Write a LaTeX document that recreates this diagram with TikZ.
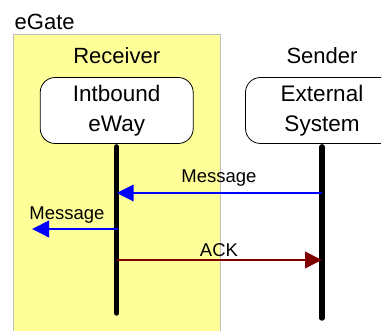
\documentclass[tikz,border=0pt]{standalone}
\usepackage{fontspec}
\setmainfont{Liberation Sans}
\usetikzlibrary{arrows.meta}
\definecolor{zonefill}{HTML}{FFFF99}
\definecolor{zoneline}{HTML}{BFBFBF}
\definecolor{ackred}{HTML}{800000}
\tikzset{
  title/.style={font=\fontsize{22}{26}\selectfont, anchor=base, inner sep=0pt},
  msglabel/.style={font=\fontsize{18.5}{22}\selectfont, anchor=base, inner sep=0pt},
  participant/.style={draw=black, line width=0.8pt, fill=white, rounded corners=15pt,
    minimum width=153pt, minimum height=66pt, inner sep=0pt, align=center,
    font=\fontsize{22.5}{30}\selectfont},
  lifeline/.style={line width=5.5pt, line cap=round},
  msg/.style={line width=2pt, -{Triangle[length=17pt,width=16.5pt]}},
}
\begin{document}
\begin{tikzpicture}[x=1pt, y=-1pt]
  \useasboundingbox (0,0) rectangle (381,331);
  \clip (0,0) rectangle (381,331);

  % eGate zone
  \draw[zoneline, fill=zonefill, line width=0.8pt] (13,34) rectangle (220,340);
  \node[title, anchor=base west] (egate) at (14.5,30) {eGate};

  % participant headings
  \node[title] (recvtitle) at (116.7,64) {Receiver};
  \node[title] (sendtitle) at (322,64) {Sender};

  % participant boxes
  \node[participant] (recv) at (116.7,110.5) {Intbound\\eWay};
  \node[participant] (ext) at (322,110.5) {External\\System};

  % lifelines
  \coordinate (recvend) at (116.7,313);
  \coordinate (extend) at (322,318);
  \draw[lifeline] ([yshift=-3pt]recv.south) -- (recvend);
  \draw[lifeline] ([yshift=-3pt]ext.south) -- (extend);

  % message anchor points on the lifelines
  \coordinate (ext1) at (322,193);
  \coordinate (recv1) at (116.7,193);
  \coordinate (recv2) at (118,229);
  \coordinate (out2) at (32,229);
  \coordinate (recv3) at (116.7,260);
  \coordinate (ext3) at (322,260);

  % messages
  \draw[msg, blue] (ext1) -- (recv1);
  \node[msglabel] (m1) at (219,183) {Message};
  \draw[msg, blue] (recv2) -- (out2);
  \node[msglabel] (m2) at (67,219.3) {Message};
  \draw[msg, ackred] (recv3) -- (ext3);
  \node[msglabel] (ack) at (219,256.5) {ACK};
\end{tikzpicture}
\end{document}
